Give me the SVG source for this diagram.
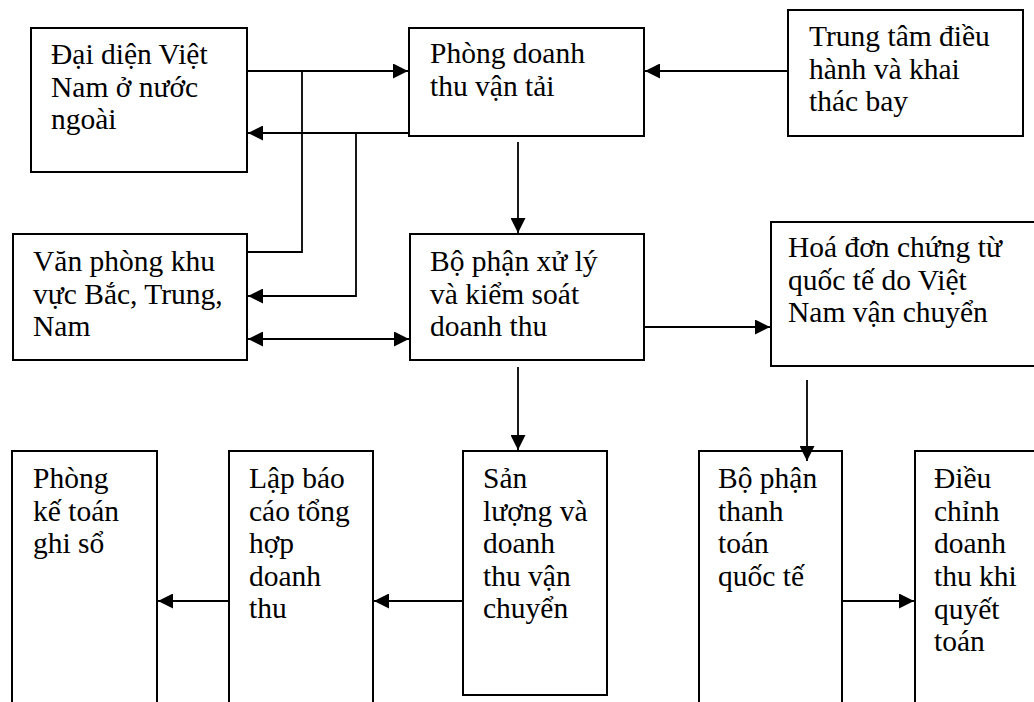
<svg xmlns="http://www.w3.org/2000/svg" width="1034" height="702" viewBox="0 0 1034 702">
<defs>
<style>
.box{fill:#fff;stroke:#000;stroke-width:2}
.t{font-family:"Liberation Serif","Times New Roman",serif;font-size:29.5px;fill:#000}
.c{fill:none;stroke:#000;stroke-width:1.8}
</style>
<marker id="ah" markerUnits="userSpaceOnUse" markerWidth="15" markerHeight="15" viewBox="0 0 15 15" refX="15" refY="7.5" orient="auto-start-reverse">
<path d="M0,0 L15,7.5 L0,15 Z" fill="#000"/>
</marker>
</defs>
<rect width="1034" height="702" fill="#fff"/>

<g id="dai-dien">
<rect class="box" x="31" y="28" width="216" height="144"/>
<text class="t" x="51" y="64">Đại diện Việt</text>
<text class="t" x="51" y="97">Nam ở nước</text>
<text class="t" x="51" y="129">ngoài</text>
</g>

<g id="phong-doanh-thu">
<rect class="box" x="409" y="28" width="235" height="108"/>
<text class="t" x="430" y="63">Phòng doanh</text>
<text class="t" x="430" y="96">thu vận tải</text>
</g>

<g id="trung-tam">
<rect class="box" x="788" y="10" width="235" height="126"/>
<text class="t" x="809" y="46">Trung tâm điều</text>
<text class="t" x="809" y="79">hành và khai</text>
<text class="t" x="809" y="111">thác bay</text>
</g>

<g id="van-phong">
<rect class="box" x="13" y="234" width="234" height="126"/>
<text class="t" x="33" y="271">Văn phòng khu</text>
<text class="t" x="33" y="304">vực Bắc, Trung,</text>
<text class="t" x="33" y="336">Nam</text>
</g>

<g id="bo-phan-xu-ly">
<rect class="box" x="410" y="234" width="234" height="126"/>
<text class="t" x="430" y="271">Bộ phận xử lý</text>
<text class="t" x="430" y="304">và kiểm soát</text>
<text class="t" x="430" y="336">doanh thu</text>
</g>

<g id="hoa-don">
<rect class="box" x="771" y="222" width="280" height="144"/>
<text class="t" x="788" y="257">Hoá đơn chứng từ</text>
<text class="t" x="788" y="290">quốc tế do Việt</text>
<text class="t" x="788" y="322">Nam vận chuyển</text>
</g>

<g id="phong-ke-toan">
<rect class="box" x="12" y="451" width="145" height="270"/>
<text class="t" x="33" y="488">Phòng</text>
<text class="t" x="33" y="521">kế toán</text>
<text class="t" x="33" y="553">ghi sổ</text>
</g>

<g id="lap-bao-cao">
<rect class="box" x="229" y="451" width="144" height="270"/>
<text class="t" x="249" y="488">Lập báo</text>
<text class="t" x="249" y="521">cáo tổng</text>
<text class="t" x="249" y="553">hợp</text>
<text class="t" x="249" y="586">doanh</text>
<text class="t" x="249" y="618">thu</text>
</g>

<g id="san-luong">
<rect class="box" x="463" y="451" width="144" height="244"/>
<text class="t" x="483" y="488">Sản</text>
<text class="t" x="483" y="521">lượng và</text>
<text class="t" x="483" y="553">doanh</text>
<text class="t" x="483" y="586">thu vận</text>
<text class="t" x="483" y="618">chuyển</text>
</g>

<g id="thanh-toan-quoc-te">
<rect class="box" x="699" y="451" width="143" height="270"/>
<text class="t" x="718" y="488">Bộ phận</text>
<text class="t" x="718" y="521">thanh</text>
<text class="t" x="718" y="553">toán</text>
<text class="t" x="718" y="586">quốc tế</text>
</g>

<g id="dieu-chinh">
<rect class="box" x="915" y="451" width="145" height="270"/>
<text class="t" x="934" y="488">Điều</text>
<text class="t" x="934" y="521">chỉnh</text>
<text class="t" x="934" y="553">doanh</text>
<text class="t" x="934" y="586">thu khi</text>
<text class="t" x="934" y="619">quyết</text>
<text class="t" x="934" y="651">toán</text>
</g>

<g id="connectors">
<path class="c" d="M247,71 H408" marker-end="url(#ah)"/>
<path class="c" d="M302,71 V252 H247"/>
<path class="c" d="M409,133 H248" marker-end="url(#ah)"/>
<path class="c" d="M356,133 V296 H248" marker-end="url(#ah)"/>
<path class="c" d="M788,71 H645" marker-end="url(#ah)"/>
<path class="c" d="M518,142 V233" marker-end="url(#ah)"/>
<path class="c" d="M248,339 H409" marker-start="url(#ah)" marker-end="url(#ah)"/>
<path class="c" d="M644,327 H770" marker-end="url(#ah)"/>
<path class="c" d="M518,367 V450" marker-end="url(#ah)"/>
<path class="c" d="M807,380 V461" marker-end="url(#ah)"/>
<path class="c" d="M463,601 H374" marker-end="url(#ah)"/>
<path class="c" d="M229,601 H158" marker-end="url(#ah)"/>
<path class="c" d="M842,601 H914" marker-end="url(#ah)"/>
</g>
</svg>
